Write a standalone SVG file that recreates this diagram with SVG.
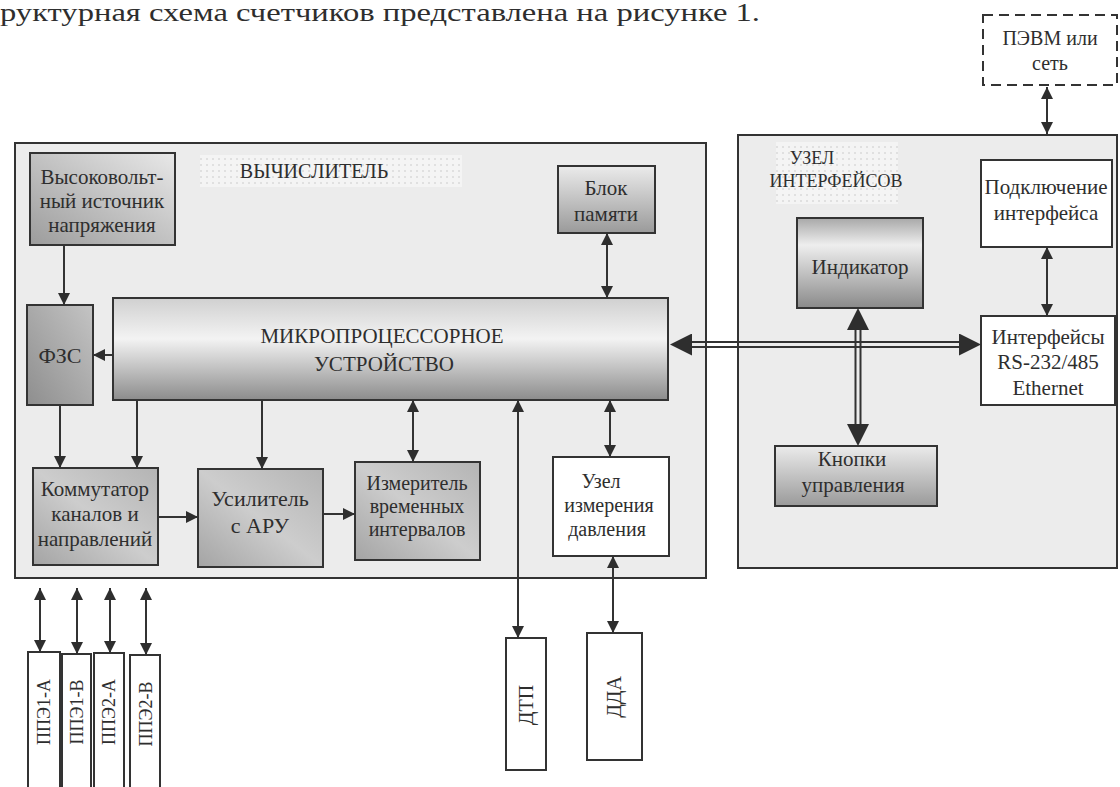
<svg xmlns="http://www.w3.org/2000/svg" width="1120" height="787" viewBox="0 0 1120 787">
<defs>
<style>
text{font-family:"Liberation Serif","DejaVu Serif",serif;fill:#2e2e2e;text-anchor:middle;}
.t18{font-size:18px;}
.t20{font-size:20px;}
.t21{font-size:21px;}
.t22{font-size:22px;}
.box{stroke:#333;stroke-width:2;}
.wbox{fill:#fff;stroke:#333;stroke-width:2;}
.ln{stroke:#333;stroke-width:2;fill:none;}
.dl{stroke:#333;stroke-width:2;fill:none;}
.panel{fill:#ececec;stroke:#333;stroke-width:2;}
</style>
<marker id="ah" viewBox="0 0 10 10" refX="10" refY="5" markerWidth="12" markerHeight="12" markerUnits="userSpaceOnUse" orient="auto-start-reverse"><path d="M0,0 L10,5 L0,10 Z" fill="#2e2e2e"/></marker>
<marker id="big" viewBox="0 0 10 10" refX="10" refY="5" markerWidth="22" markerHeight="22" markerUnits="userSpaceOnUse" orient="auto-start-reverse"><path d="M0,0 L10,5 L0,10 Z" fill="#2e2e2e"/></marker>
<linearGradient id="gDiag" x1="0" y1="1" x2="1" y2="0"><stop offset="0" stop-color="#9c9c9c"/><stop offset="1" stop-color="#e8e8e8"/></linearGradient>
<linearGradient id="gDark" x1="0" y1="1" x2="1" y2="0"><stop offset="0" stop-color="#8e8e8e"/><stop offset="1" stop-color="#c4c4c4"/></linearGradient>
<linearGradient id="gMid" x1="0" y1="1" x2="1" y2="0"><stop offset="0" stop-color="#a4a4a4"/><stop offset="0.5" stop-color="#cdcdcd"/><stop offset="1" stop-color="#b4b4b4"/></linearGradient>
<linearGradient id="gTopLight" x1="0" y1="0" x2="0" y2="1"><stop offset="0" stop-color="#ebebeb"/><stop offset="1" stop-color="#9a9a9a"/></linearGradient>
<linearGradient id="gMP" x1="0" y1="0" x2="0" y2="1"><stop offset="0" stop-color="#d0d0d0"/><stop offset="0.4" stop-color="#f3f3f3"/><stop offset="1" stop-color="#8c8c8c"/></linearGradient>
<linearGradient id="gInd" x1="0" y1="0" x2="0" y2="1"><stop offset="0" stop-color="#a8a8a8"/><stop offset="0.3" stop-color="#eeeeee"/><stop offset="1" stop-color="#8a8a8a"/></linearGradient>
<pattern id="dots" width="6" height="6" patternUnits="userSpaceOnUse"><rect width="6" height="6" fill="#f4f4f4"/><circle cx="3" cy="3" r="0.8" fill="#c8c8c8"/></pattern>
</defs>

<text x="0" y="21" style="font-size:26px;text-anchor:start;" textLength="760" lengthAdjust="spacingAndGlyphs">руктурная схема счетчиков представлена на рисунке 1.</text>

<g id="vychislitel">
<rect class="panel" x="15" y="143" width="691" height="435"/>
<rect x="200" y="155" width="262" height="32" fill="url(#dots)"/>
<text x="314" y="178" class="t20">ВЫЧИСЛИТЕЛЬ</text>
</g>

<g id="uzel-interfeysov">
<rect class="panel" x="738" y="135" width="379" height="433"/>
<rect x="776" y="142" width="122" height="62" fill="url(#dots)"/>
<text x="812" y="164" class="t18">УЗЕЛ</text>
<text x="836" y="187" class="t18">ИНТЕРФЕЙСОВ</text>
</g>

<g id="pevm">
<rect x="983" y="15" width="134" height="70" fill="#fff" stroke="#333" stroke-width="2" stroke-dasharray="10,6"/>
<text x="1050" y="45" class="t20">ПЭВМ или</text>
<text x="1050" y="70" class="t20">сеть</text>
</g>

<g id="vysokovolt">
<rect class="box" x="30" y="153" width="145" height="92" fill="url(#gDiag)"/>
<text x="102" y="184" class="t21">Высоковольт-</text>
<text x="102" y="208" class="t21">ный источник</text>
<text x="102" y="232" class="t21">напряжения</text>
</g>

<g id="blok-pamyati">
<rect class="box" x="558" y="166" width="97" height="67" fill="url(#gTopLight)"/>
<text x="606" y="195" class="t21">Блок</text>
<text x="606" y="221" class="t21">памяти</text>
</g>

<g id="fzs">
<rect class="box" x="27" y="305" width="66" height="100" fill="url(#gDark)"/>
<text x="60" y="363" class="t22">ФЗС</text>
</g>

<g id="mp">
<rect class="box" x="113" y="298" width="555" height="102" fill="url(#gMP)"/>
<text x="382" y="343" class="t21">МИКРОПРОЦЕССОРНОЕ</text>
<text x="384" y="371" class="t21">УСТРОЙСТВО</text>
</g>

<g id="kommutator">
<rect class="box" x="33" y="468" width="125" height="97" fill="url(#gMid)"/>
<text x="95" y="496" class="t21">Коммутатор</text>
<text x="95" y="521" class="t21">каналов и</text>
<text x="95" y="546" class="t21">направлений</text>
</g>

<g id="usilitel">
<rect class="box" x="198" y="469" width="125" height="98" fill="url(#gMid)"/>
<text x="260" y="506" class="t22">Усилитель</text>
<text x="260" y="533" class="t22">с АРУ</text>
</g>

<g id="izmeritel">
<rect class="box" x="355" y="462" width="125" height="98" fill="url(#gMid)"/>
<text x="417" y="490" class="t20">Измеритель</text>
<text x="417" y="513" class="t20">временных</text>
<text x="417" y="536" class="t20">интервалов</text>
</g>

<g id="uzel-davleniya">
<rect class="wbox" x="553" y="457" width="116" height="99"/>
<text x="601" y="488" class="t20">Узел</text>
<text x="609" y="512" class="t20">измерения</text>
<text x="607" y="536" class="t20">давления</text>
</g>

<g id="podklyuchenie">
<rect class="wbox" x="981" y="160" width="131" height="87"/>
<text x="1046" y="194" class="t21">Подключение</text>
<text x="1046" y="220" class="t21">интерфейса</text>
</g>

<g id="interfeysy">
<rect class="wbox" x="981" y="316" width="134" height="89"/>
<text x="1048" y="344" class="t21">Интерфейсы</text>
<text x="1048" y="369" class="t21">RS-232/485</text>
<text x="1048" y="395" class="t21">Ethernet</text>
</g>

<g id="indikator">
<rect class="box" x="797" y="218" width="126" height="90" fill="url(#gInd)"/>
<text x="860" y="274" class="t21">Индикатор</text>
</g>

<g id="knopki">
<rect class="box" x="775" y="446" width="162" height="60" fill="url(#gTopLight)"/>
<text x="852" y="466" class="t21">Кнопки</text>
<text x="853" y="492" class="t21">управления</text>
</g>

<g id="ppe1a"><rect class="wbox" x="28" y="652" width="32" height="140"/><text transform="translate(50,712) rotate(-90)" class="t18">ППЭ1-А</text></g>
<g id="ppe1b"><rect class="wbox" x="62" y="654" width="29" height="140"/><text transform="translate(83,712) rotate(-90)" class="t18">ППЭ1-В</text></g>
<g id="ppe2a"><rect class="wbox" x="94" y="653" width="30" height="140"/><text transform="translate(115,712) rotate(-90)" class="t18">ППЭ2-А</text></g>
<g id="ppe2b"><rect class="wbox" x="130" y="655" width="30" height="140"/><text transform="translate(152,714) rotate(-90)" class="t18">ППЭ2-В</text></g>
<g id="dtp"><rect class="wbox" x="506" y="638" width="40" height="132"/><text transform="translate(533,705) rotate(-90)" class="t20">ДТП</text></g>
<g id="dda"><rect class="wbox" x="587" y="633" width="55" height="127"/><text transform="translate(621,697) rotate(-90)" class="t20">ДДА</text></g>

<g id="connectors">
<line class="ln" x1="1047" y1="87" x2="1047" y2="134" marker-start="url(#ah)" marker-end="url(#ah)"/>
<line class="ln" x1="64" y1="245" x2="64" y2="305" marker-end="url(#ah)"/>
<line class="ln" x1="607" y1="233" x2="607" y2="298" marker-start="url(#ah)" marker-end="url(#ah)"/>
<line class="ln" x1="113" y1="355" x2="93" y2="355" marker-end="url(#ah)"/>
<line class="ln" x1="60" y1="405" x2="60" y2="468" marker-end="url(#ah)"/>
<line class="ln" x1="137" y1="400" x2="137" y2="468" marker-end="url(#ah)"/>
<line class="ln" x1="262" y1="400" x2="262" y2="469" marker-end="url(#ah)"/>
<line class="ln" x1="413" y1="400" x2="413" y2="462" marker-start="url(#ah)" marker-end="url(#ah)"/>
<line class="ln" x1="518" y1="400" x2="518" y2="638" marker-start="url(#ah)" marker-end="url(#ah)"/>
<line class="ln" x1="610" y1="400" x2="610" y2="457" marker-start="url(#ah)" marker-end="url(#ah)"/>
<line class="ln" x1="613" y1="556" x2="613" y2="633" marker-start="url(#ah)" marker-end="url(#ah)"/>
<line class="ln" x1="158" y1="517" x2="198" y2="517" marker-end="url(#ah)"/>
<line class="ln" x1="323" y1="514" x2="355" y2="514" marker-end="url(#ah)"/>
<line class="ln" x1="40" y1="588" x2="40" y2="652" marker-start="url(#ah)" marker-end="url(#ah)"/>
<line class="ln" x1="77" y1="588" x2="77" y2="654" marker-start="url(#ah)" marker-end="url(#ah)"/>
<line class="ln" x1="110" y1="588" x2="110" y2="653" marker-start="url(#ah)" marker-end="url(#ah)"/>
<line class="ln" x1="146" y1="588" x2="146" y2="655" marker-start="url(#ah)" marker-end="url(#ah)"/>
<line class="ln" x1="1047" y1="247" x2="1047" y2="316" marker-start="url(#ah)" marker-end="url(#ah)"/>
<path class="dl" d="M688,342 L962,342 M688,347 L962,347"/>
<line x1="670" y1="344.5" x2="981" y2="344.5" stroke="#333" stroke-width="0.01" marker-start="url(#big)" marker-end="url(#big)"/>
<path class="dl" d="M855.5,328 L855.5,426 M860.5,328 L860.5,426"/>
<line x1="858" y1="308" x2="858" y2="446" stroke="#333" stroke-width="0.01" marker-start="url(#big)" marker-end="url(#big)"/>
</g>
</svg>
